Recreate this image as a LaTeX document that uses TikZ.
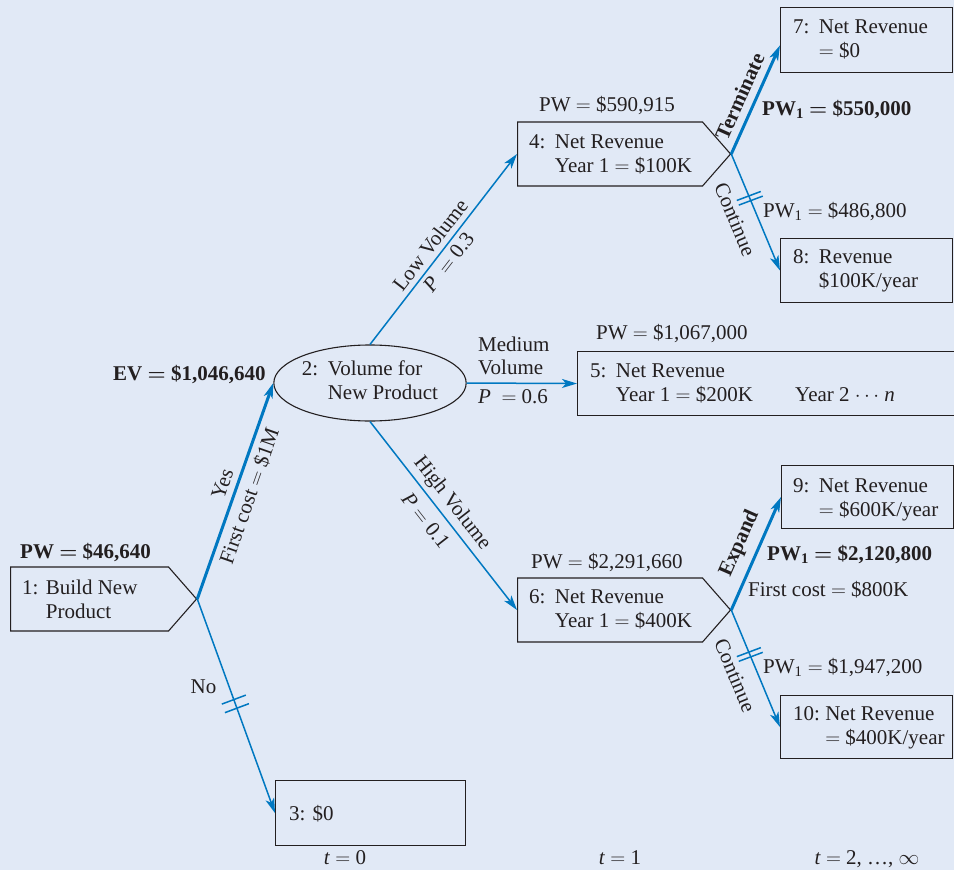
\documentclass[tikz,border=0pt]{standalone}
\usepackage{fontspec}
\setmainfont{Liberation Serif}
\usetikzlibrary{arrows.meta,shapes.geometric,shapes.symbols,calc}
\definecolor{bg}{RGB}{225,233,246}
\definecolor{flow}{RGB}{0,120,193}
\definecolor{ink}{RGB}{35,31,32}
% two-line label with a hanging number column
\newcommand{\twolines}[4][0.45em]{\begin{tabular}[t]{@{}l@{\hspace{#1}}l@{}}#2&#3\\&#4\end{tabular}}
% double tick mark across a branch (rejected alternative)
\newcommand{\dbltick}[4]{%
  \draw[tickmark] ($(#1)!#3!(#2)+(-12,4.5)$) -- ++(24,-9);
  \draw[tickmark] ($(#1)!#4!(#2)+(-12,4.5)$) -- ++(24,-9);}
\newcommand{\eq}{$=$}
\newcommand{\beq}{{\boldmath$=$}}
\begin{document}
\begin{tikzpicture}[x=1pt,y=-1pt,
  font=\fontsize{21}{24}\selectfont,
  every node/.style={text=ink},
  txt/.style={inner sep=0pt, anchor=base west},
  box/.style={draw=ink, line width=1.1pt, inner sep=0pt, minimum width=172pt,
    minimum height=65pt, anchor=north west},
  decision/.style={signal, signal to=east, signal pointer angle=97.6, draw=ink,
    line width=1.1pt, inner sep=0pt, minimum height=64pt, anchor=west},
  branch/.style={draw=flow, line width=1.5pt,
    -{Stealth[length=15pt,width=9pt,inset=4pt]}},
  chosen/.style={branch, line width=3pt},
  tickmark/.style={draw=flow, line width=1.5pt},
  lbl/.style={sloped, inner sep=0pt}]
\useasboundingbox (0,0) rectangle (954,870);
\fill[bg] (0,0) rectangle (954,870);
\clip (0,0) rectangle (954,870);

% decision node 1
\node[decision, minimum width=186pt] (n1) at (10,599) {};
\node[txt] (n1t) at (22,594) {\twolines[0.35em]{1:}{Build New}{Product}};
\node[txt] (pw1) at (20,558) {\bfseries PW \beq{} \$46,640};

% chance node 2
\node[ellipse, draw=ink, line width=1.1pt, minimum width=190pt, minimum height=76pt,
  inner sep=0pt] (n2) at (370,383)
  {\begin{tabular}{@{}l@{\hspace{0.45em}}l@{}}2:&Volume for\\&New Product\end{tabular}};
\node[txt] (ev) at (113,380) {\bfseries EV \beq{} \$1,046,640};

% outcome 3
\node[box, minimum width=190pt] (n3) at (275,780) {};
\node[txt] (n3t) at (289,820) {3: \$0};

% decision node 4
\node[decision, minimum width=213pt] (n4) at (517,154) {};
\node[txt] (n4t) at (529,148) {\twolines{4:}{Net Revenue}{Year 1 \eq{} \$100K}};
\node[txt] (pw4) at (539,111) {PW \eq{} \$590,915};

% outcome 5
\node[box, minimum width=400pt, minimum height=64pt] (n5) at (577,351) {};
\node[txt] (n5t) at (590,377) {\twolines{5:}{Net Revenue}{Year 1 \eq{} \$200K}};
\node[txt] (n5y) at (795,401) {Year 2 $\cdots$ \textit{n}};
\node[txt] (pw5) at (596,339) {PW \eq{} \$1,067,000};

% decision node 6
\node[decision, minimum width=213pt] (n6) at (517,610) {};
\node[txt] (n6t) at (529,603) {\twolines{6:}{Net Revenue}{Year 1 \eq{} \$400K}};
\node[txt] (pw6) at (531,568) {PW \eq{} \$2,291,660};

% final outcomes
\node[box] (n7) at (780,7) {};
\node[txt] (n7t) at (793,34) {\twolines{7:}{Net Revenue}{\eq{} \$0}};
\node[box, minimum height=64pt] (n8) at (780,238) {};
\node[txt] (n8t) at (793,263) {\twolines{8:}{Revenue}{\$100K/year}};
\node[box, minimum height=63pt] (n9) at (781,465) {};
\node[txt] (n9t) at (793,492) {\twolines{9:}{Net Revenue}{\eq{} \$600K/year}};
\node[box, minimum height=63pt] (n10) at (780,695) {};
\node[txt] (n10t) at (793,720) {\twolines[0.25em]{10:}{Net Revenue}{\eq{} \$400K/year}};

% values on the second-stage branches
\node[txt] (pw7) at (762,115) {\bfseries PW\textsubscript{1} \beq{} \$550,000};
\node[txt] (pw8) at (763,217) {PW\textsubscript{1} \eq{} \$486,800};
\node[txt] (pw9) at (767,560) {\bfseries PW\textsubscript{1} \beq{} \$2,120,800};
\node[txt] (fc9) at (748,596) {First cost \eq{} \$800K};
\node[txt] (pw10) at (763,673) {PW\textsubscript{1} \eq{} \$1,947,200};

% medium volume label
\node[txt] (medA) at (478,351) {Medium};
\node[txt] (medB) at (478,374) {Volume};
\node[txt] (medC) at (478,403) {\textit{P}\ \ \eq{} 0.6};

% time axis
\node[inner sep=0pt, anchor=base] (t0) at (345,864) {\textit{t} \eq{} 0};
\node[inner sep=0pt, anchor=base] (t1) at (620,864) {\textit{t} \eq{} 1};
\node[inner sep=0pt, anchor=base] (t2) at (867,864) {\textit{t} \eq{} 2, …, $\infty$};

% branches
\draw[chosen] (n1.east) -- (n2.west)
  node[lbl, pos=0.51, above=6pt] {Yes}
  node[lbl, pos=0.50, below=5pt] {First cost \eq{} \$1M};
\draw[branch] (n1.east) -- (n3.west)
  node[pos=0.41, left=12pt, inner sep=0pt] {No};
\dbltick{n1.east}{n3.west}{0.47}{0.51}
\draw[branch] (n2.north) -- (n4.west)
  node[lbl, pos=0.48, above=5pt] {Low Volume}
  node[lbl, pos=0.47, below=4pt] {\textit{P}\ \ \eq{} 0.3};
\draw[branch] (n2.east) -- (n5.west);
\draw[branch] (n2.south) -- (n6.west)
  node[lbl, pos=0.48, above=4pt] {High Volume}
  node[lbl, pos=0.47, below=9pt] {\textit{P} \eq{} 0.1};
\draw[chosen] (n4.east) -- ($(n7.south west)!0.42!(n7.north west)$)
  node[lbl, pos=0.47, above=7pt] {\bfseries Terminate};
\draw[branch] (n4.east) -- (n8.west)
  node[lbl, pos=0.49, below=14pt] {Continue};
\dbltick{n4.east}{n8.west}{0.36}{0.40}
\draw[chosen] (n6.east) -- (n9.west)
  node[lbl, pos=0.52, above=8pt] {\bfseries Expand};
\draw[branch] (n6.east) -- (n10.west)
  node[lbl, pos=0.49, below=14pt] {Continue};
\dbltick{n6.east}{n10.west}{0.36}{0.40}
\end{tikzpicture}
\end{document}
